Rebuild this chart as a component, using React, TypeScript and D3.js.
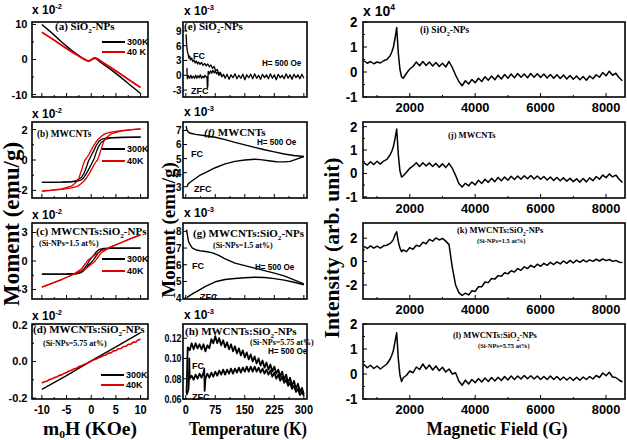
import React from "react";
import * as d3 from "d3";

// ---------------- DATA ----------------
// (a) SiO2-NPs  M-H  (x1e-2 emu/g)
const A_H = [-10, -8, -6, -4, -3, -2, -1.2, -0.6, 0, 0.4, 0.8, 1.2, 2, 3, 4, 6, 8, 10];
const A_300K = [10, 7.6, 5.0, 2.6, 1.6, 0.6, 0.0, -0.5, -0.2, 0.2, 0.35, 0.0, -0.9, -1.9, -2.9, -5.1, -7.4, -9.7];
const A_40K = [7.8, 6.0, 4.1, 2.2, 1.4, 0.5, -0.1, -0.5, -0.1, 0.35, 0.5, 0.25, -0.5, -1.4, -2.3, -4.2, -6.1, -8.0];

// (b) MWCNTs
const B_300K_DOWN_H = [10, 6, 4, 3, 2, 1.5, 1, 0.5, 0, -0.3, -0.6, -1, -1.5, -2, -3, -4, -6, -10];
const B_300K_DOWN = [1.5, 1.49, 1.47, 1.44, 1.35, 1.2, 0.95, 0.6, 0.3, 0.1, -0.1, -0.5, -0.9, -1.15, -1.35, -1.42, -1.45, -1.47];
const B_300K_UP_H = [-10, -6, -4, -3, -2, -1.5, -1, -0.5, 0, 0.3, 0.6, 1, 1.5, 2, 3, 4, 6, 10];
const B_300K_UP = [-1.47, -1.46, -1.44, -1.4, -1.3, -1.15, -0.9, -0.6, -0.3, -0.1, 0.1, 0.5, 0.9, 1.15, 1.38, 1.45, 1.48, 1.5];
const B_40K_DOWN_H = [10, 8, 6, 4, 3, 2.5, 2, 1.5, 1, 0.5, 0, -0.5, -1, -1.25, -1.5, -2, -2.5, -3, -4, -6, -8, -10];
const B_40K_DOWN = [2.05, 2.0, 1.93, 1.83, 1.75, 1.67, 1.55, 1.4, 1.2, 0.95, 0.65, 0.35, 0.1, 0, -0.2, -0.7, -1.2, -1.45, -1.72, -1.9, -1.98, -2.05];
const B_40K_UP_H = [-10, -8, -6, -4, -3, -2.5, -2, -1.5, -1, -0.5, 0, 0.5, 1, 1.25, 1.5, 2, 2.5, 3, 4, 6, 8, 10];
const B_40K_UP = [-2.05, -2.0, -1.93, -1.83, -1.75, -1.67, -1.55, -1.4, -1.2, -0.95, -0.65, -0.35, -0.1, 0, 0.2, 0.7, 1.2, 1.45, 1.72, 1.9, 1.98, 2.05];

// (c) MWCNTs:SiO2-NPs (1.5 at%)
const C_300K_DOWN_H = [10, 4, 2.5, 2, 1.5, 1, 0.5, 0, -0.4, -1, -1.5, -2, -2.5, -3, -5, -10];
const C_300K_DOWN = [1.35, 1.35, 1.33, 1.28, 1.18, 0.95, 0.6, 0.3, 0, -0.5, -0.85, -1.1, -1.25, -1.32, -1.37, -1.38];
const C_300K_UP_H = [-10, -5, -3, -2.5, -2, -1.5, -1, -0.5, 0, 0.4, 1, 1.5, 2, 2.5, 4, 10];
const C_300K_UP = [-1.38, -1.37, -1.34, -1.3, -1.2, -1.0, -0.7, -0.4, -0.15, 0.1, 0.55, 0.9, 1.12, 1.26, 1.34, 1.35];
const C_40K_DOWN_H = [10, 8, 6, 4, 3, 2, 1.5, 1, 0.5, 0, -0.5, -0.8, -1, -1.5, -2, -3, -4, -6, -8, -10];
const C_40K_DOWN = [2.75, 2.35, 1.92, 1.48, 1.27, 1.05, 0.9, 0.75, 0.55, 0.35, 0.15, 0, -0.15, -0.5, -0.85, -1.2, -1.5, -1.95, -2.35, -2.75];
const C_40K_UP_H = [-10, -8, -6, -4, -3, -2, -1.5, -1, -0.5, 0, 0.5, 0.8, 1, 1.5, 2, 3, 4, 6, 8, 10];
const C_40K_UP = [-2.75, -2.35, -1.95, -1.5, -1.25, -1.05, -0.9, -0.75, -0.55, -0.35, -0.15, 0, 0.15, 0.5, 0.85, 1.2, 1.48, 1.92, 2.35, 2.75];

// (d) MWCNTs:SiO2-NPs (5.75 at%)
const D_300K_H = [-10, -5, 0, 5, 10];
const D_300K = [-0.152, -0.077, 0.003, 0.08, 0.158];
const D_40K_H = [-10, -9.5, -9, -8.5, -8, -7.5, -7, -6.5, -6, -5.5, -5, -4.5, -4, -3.5, -3, -2.5, -2, -1.5, -1, -0.5, 0, 0.5, 1, 1.5, 2, 2.5, 3, 3.5, 4, 4.5, 5, 5.5, 6, 6.5, 7, 7.5, 8, 8.5, 9, 9.5, 10];
const D_40K = [-0.118, -0.111, -0.108, -0.099, -0.096, -0.088, -0.085, -0.076, -0.073, -0.065, -0.060, -0.052, -0.048, -0.040, -0.037, -0.028, -0.024, -0.016, -0.012, -0.004, 0.002, 0.009, 0.013, 0.021, 0.025, 0.033, 0.036, 0.046, 0.047, 0.058, 0.060, 0.070, 0.071, 0.082, 0.083, 0.094, 0.094, 0.106, 0.105, 0.118, 0.122];

// (e) SiO2-NPs M-T (x1e-3 emu/g) [T, M]
const E_FC: [number, number][] = [[1, 8.3], [2, 6.4], [3, 5.6], [4, 4.9], [6, 4.3], [8, 3.5], [10, 3.9], [12, 3.1], [15, 3.5], [18, 2.8], [21, 3.1], [24, 2.5], [27, 2.9], [30, 2.3], [33, 2.7], [36, 2.2], [40, 2.6], [44, 2.0], [48, 2.4], [52, 1.9], [56, 2.3], [60, 1.7], [64, 2.1], [68, 1.4], [72, 1.8], [76, 0.9], [80, 1.2], [84, 0.3], [88, 0.6], [92, -0.3], [96, 0.2], [100, -0.6], [105, 0.2], [110, -0.8], [115, 0.1], [120, -0.5], [125, 0.3], [130, -0.7], [135, 0.0], [140, -0.6], [145, 0.2], [150, -0.9], [155, 0.1], [160, -0.5], [165, 0.2], [170, -0.7], [175, 0.3], [180, -0.6], [185, 0.0], [190, -0.8], [195, 0.2], [200, -0.5], [205, 0.1], [210, -0.7], [215, 0.3], [220, -0.6], [225, 0.1], [230, -0.9], [235, 0.2], [240, -0.5], [245, 0.0], [250, -0.7], [255, 0.3], [260, -0.6], [265, 0.1], [270, -0.8], [275, 0.2], [280, -0.5], [285, 0.1], [290, -0.7], [295, 0.2], [300, -0.6]];
const E_ZFC: [number, number][] = [[3, 1.5], [4, -0.7], [7, -0.1], [10, -0.6], [13, 0.0], [16, -0.6], [19, -0.2], [22, -0.6], [25, 0.0], [28, -0.6], [31, -0.1], [34, -0.5], [37, 0.1], [40, -0.6], [43, -0.2], [46, -0.5], [49, 0.0], [52, -0.4], [54, -0.3], [55, -2.6], [56, -2.2], [57, 0.8], [60, 0.3], [63, 0.9], [66, 0.4], [69, 1.0], [72, 0.5], [75, 0.9], [78, 0.3], [81, 0.6], [84, 0.0], [88, 0.3], [92, -0.3]];

// (f) MWCNTs
const F_FC: [number, number][] = [[1, 7.3], [3, 7.05], [6, 6.9], [10, 6.82], [15, 6.78], [25, 6.72], [50, 6.62], [75, 6.52], [100, 6.35], [125, 6.15], [150, 5.97], [175, 5.8], [200, 5.63], [225, 5.48], [250, 5.33], [275, 5.22], [300, 5.15]];
const F_ZFC: [number, number][] = [[3, 3.0], [6, 3.2], [10, 3.3], [20, 3.5], [35, 3.8], [50, 4.0], [75, 4.35], [100, 4.62], [125, 4.8], [150, 4.9], [175, 4.95], [190, 4.93], [210, 4.85], [230, 4.78], [250, 4.77], [265, 4.8], [280, 4.95], [300, 5.15]];

// (g) MWCNTs:SiO2-NPs (1.5 at%)
const G_FC: [number, number][] = [[2, 8.1], [4, 7.8], [7, 7.4], [11, 7.2], [17, 7.0], [25, 6.9], [40, 6.82], [55, 6.78], [70, 6.7], [85, 6.55], [100, 6.35], [125, 6.1], [150, 5.95], [175, 5.8], [200, 5.65], [225, 5.5], [250, 5.33], [275, 5.1], [300, 4.85]];
const G_ZFC: [number, number][] = [[3, 4.05], [10, 4.15], [20, 4.3], [35, 4.5], [50, 4.7], [75, 4.98], [100, 5.12], [125, 5.18], [150, 5.22], [175, 5.25], [200, 5.24], [225, 5.17], [250, 5.08], [275, 4.95], [300, 4.8]];

// (h) MWCNTs:SiO2-NPs (5.75 at%)
const H_FC: [number, number][] = [[2, 0.066], [3, 0.078], [4, 0.098], [5, 0.111], [10, 0.108], [15, 0.115], [20, 0.109], [25, 0.115], [30, 0.110], [35, 0.114], [40, 0.109], [45, 0.114], [50, 0.107], [55, 0.113], [60, 0.110], [65, 0.119], [70, 0.115], [75, 0.122], [80, 0.115], [85, 0.120], [90, 0.113], [95, 0.118], [100, 0.111], [105, 0.116], [110, 0.109], [115, 0.114], [120, 0.107], [125, 0.112], [130, 0.105], [135, 0.110], [140, 0.103], [145, 0.108], [150, 0.101], [155, 0.106], [160, 0.099], [165, 0.104], [170, 0.097], [175, 0.102], [180, 0.095], [185, 0.100], [190, 0.093], [195, 0.098], [200, 0.091], [205, 0.096], [210, 0.089], [215, 0.094], [220, 0.087], [225, 0.092], [230, 0.085], [235, 0.089], [240, 0.082], [245, 0.087], [250, 0.079], [255, 0.084], [260, 0.076], [265, 0.081], [270, 0.073], [275, 0.078], [280, 0.070], [285, 0.075], [290, 0.067], [295, 0.071], [300, 0.065]];
const H_ZFC: [number, number][] = [[2, 0.064], [5, 0.067], [7, 0.070], [8, 0.079], [9, 0.100], [10, 0.080], [15, 0.083], [20, 0.079], [25, 0.084], [30, 0.080], [35, 0.085], [40, 0.081], [45, 0.086], [47, 0.090], [48, 0.068], [50, 0.080], [55, 0.085], [60, 0.081], [65, 0.086], [70, 0.082], [75, 0.087], [80, 0.083], [85, 0.088], [90, 0.084], [95, 0.089], [100, 0.084], [105, 0.089], [110, 0.085], [115, 0.090], [120, 0.085], [125, 0.090], [130, 0.086], [135, 0.091], [140, 0.086], [145, 0.091], [150, 0.087], [155, 0.092], [160, 0.087], [165, 0.092], [170, 0.087], [175, 0.092], [180, 0.087], [185, 0.091], [190, 0.086], [195, 0.090], [200, 0.085], [205, 0.089], [210, 0.084], [215, 0.088], [220, 0.082], [225, 0.086], [230, 0.080], [235, 0.084], [240, 0.078], [245, 0.082], [250, 0.076], [255, 0.079], [260, 0.073], [265, 0.076], [270, 0.070], [275, 0.073], [280, 0.067], [285, 0.070], [290, 0.064], [295, 0.067], [300, 0.063]];

// EPR spectra (x1e4 arb. unit) on a common field grid (G)
const EPR_H = [600, 700, 800, 900, 1000, 1100, 1200, 1300, 1400, 1450, 1500, 1550, 1600, 1650, 1700, 1750, 1800, 1900, 2000, 2100, 2200, 2300, 2400, 2500, 2600, 2700, 2800, 2900, 3000, 3100, 3200, 3300, 3400, 3500, 3600, 3700, 3800, 3900, 4000, 4100, 4200, 4300, 4400, 4500, 4600, 4700, 4800, 4900, 5000, 5100, 5200, 5300, 5400, 5500, 5600, 5700, 5800, 5900, 6000, 6100, 6200, 6300, 6400, 6500, 6600, 6700, 6800, 6900, 7000, 7100, 7200, 7300, 7400, 7500, 7600, 7700, 7800, 7900, 8000, 8100, 8200, 8300, 8400, 8500];
const EPR_I = [0.45, 0.35, 0.42, 0.33, 0.40, 0.36, 0.45, 0.50, 0.65, 0.80, 1.00, 1.35, 1.78, 0.75, 0.10, -0.20, -0.25, -0.05, 0.12, 0.22, 0.40, 0.25, 0.42, 0.26, 0.40, 0.24, 0.38, 0.22, 0.35, 0.20, 0.42, 0.18, -0.12, -0.38, -0.55, -0.35, -0.48, -0.30, -0.43, -0.25, -0.38, -0.19, -0.33, -0.16, -0.31, -0.13, -0.28, -0.10, -0.25, -0.08, -0.23, -0.06, -0.21, -0.08, -0.23, -0.06, -0.21, -0.07, -0.22, -0.08, -0.24, -0.10, -0.25, -0.11, -0.26, -0.12, -0.28, -0.14, -0.29, -0.16, -0.31, -0.18, -0.33, -0.16, -0.27, -0.11, -0.21, -0.02, -0.15, 0.03, -0.13, -0.05, -0.23, -0.35];
const EPR_J = [0.45, 0.36, 0.50, 0.38, 0.52, 0.40, 0.53, 0.60, 0.80, 0.95, 1.15, 1.50, 1.90, 0.80, 0.10, -0.15, -0.10, 0.05, 0.22, 0.32, 0.46, 0.30, 0.46, 0.32, 0.45, 0.30, 0.43, 0.27, 0.41, 0.25, 0.43, 0.22, -0.08, -0.43, -0.58, -0.42, -0.53, -0.37, -0.49, -0.29, -0.43, -0.25, -0.38, -0.21, -0.35, -0.17, -0.31, -0.15, -0.29, -0.12, -0.26, -0.11, -0.25, -0.10, -0.23, -0.09, -0.24, -0.11, -0.25, -0.13, -0.28, -0.15, -0.30, -0.17, -0.31, -0.19, -0.33, -0.21, -0.35, -0.23, -0.37, -0.22, -0.36, -0.19, -0.31, -0.13, -0.25, -0.07, -0.18, -0.02, -0.15, -0.07, -0.25, -0.38];
const EPR_K = [1.30, 1.12, 1.35, 1.15, 1.33, 1.15, 1.35, 1.40, 1.55, 1.70, 1.90, 2.30, 2.55, 1.70, 1.15, 0.85, 1.00, 0.85, 1.20, 1.05, 1.40, 1.30, 1.65, 1.52, 1.90, 1.75, 2.02, 1.85, 1.98, 1.75, 1.45, -0.50, -2.00, -2.65, -2.90, -2.70, -2.85, -2.50, -2.55, -2.15, -2.15, -1.75, -1.80, -1.45, -1.50, -1.20, -1.25, -0.95, -1.05, -0.78, -0.90, -0.60, -0.75, -0.45, -0.60, -0.32, -0.50, -0.22, -0.40, -0.15, -0.32, -0.06, -0.25, -0.02, -0.20, 0.05, -0.15, 0.10, -0.12, 0.12, -0.06, 0.15, -0.02, 0.15, 0.02, 0.20, 0.05, 0.22, 0.08, 0.18, 0.02, 0.10, -0.05, -0.08];
const EPR_L = [0.38, 0.25, 0.35, 0.22, 0.32, 0.20, 0.30, 0.40, 0.60, 0.75, 0.95, 1.30, 1.65, 0.60, -0.05, -0.30, -0.15, -0.05, 0.12, 0.05, 0.28, 0.18, 0.40, 0.20, 0.36, 0.16, 0.32, 0.13, 0.27, 0.08, 0.20, 0.00, 0.05, -0.28, -0.45, -0.25, -0.40, -0.22, -0.35, -0.18, -0.32, -0.16, -0.30, -0.14, -0.28, -0.13, -0.26, -0.10, -0.24, -0.08, -0.22, -0.08, -0.20, -0.06, -0.19, -0.07, -0.20, -0.08, -0.22, -0.10, -0.22, -0.08, -0.22, -0.10, -0.24, -0.12, -0.24, -0.13, -0.26, -0.13, -0.25, -0.12, -0.22, -0.10, -0.20, -0.06, -0.14, 0.04, -0.07, 0.07, -0.12, -0.14, -0.24, -0.32];

// tick values
const MH_TICKS = [-10, -5, 0, 5, 10];
const MT_TICKS = [0, 75, 150, 225, 300];
const EPR_TICKS = [2000, 4000, 6000, 8000];

// ---------------- RENDERING ----------------
const SERIF = "'Liberation Serif','Times New Roman',serif";
const SANS = "'Liberation Sans',Arial,sans-serif";

type Pt = [number, number];
const zip = (xs: number[], ys: number[]): Pt[] => xs.slice(0, Math.min(xs.length, ys.length)).map((x, i) => [x, ys[i]]);

type Series = { pts: Pt[]; color: string; w: number };
type PanelSpec = {
  id: string; x0: number; x1: number; y0: number; y1: number;
  xd: [number, number]; yd: [number, number];
  xt: number[]; xm: number[]; yt: number[]; ym: number[];
  yf: (v: number) => string; xlab: boolean; xfs: number; xsx: number; yfs: number; ysx: number; ygap: number;
  series: Series[];
};

function Tx({ x, y, fs, fam = SANS, anchor = "start", sx = 1, sy = 1, rot = 0, children, fw = "bold", tl }: any) {
  let tr = `translate(${x},${y})`;
  if (rot) tr += ` rotate(${rot})`;
  if (sx !== 1 || sy !== 1) tr += ` scale(${sx},${sy})`;
  return (
    <text transform={tr} fontSize={fs} fontFamily={fam} fontWeight={fw} textAnchor={anchor}
      textLength={tl} lengthAdjust={tl ? "spacingAndGlyphs" : undefined} fill="#000">
      {children}
    </text>
  );
}

function Panel({ p }: { p: PanelSpec }) {
  const xs = d3.scaleLinear().domain(p.xd).range([p.x0, p.x1]);
  const ys = d3.scaleLinear().domain(p.yd).range([p.y1, p.y0]);
  const line = d3.line<Pt>().x((d) => xs(d[0])).y((d) => ys(d[1]));
  const cid = `clip-${p.id}`;
  return (
    <g>
      <defs>
        <clipPath id={cid}>
          <rect x={p.x0} y={p.y0} width={p.x1 - p.x0} height={p.y1 - p.y0} />
        </clipPath>
      </defs>
      <g clipPath={`url(#${cid})`}>
        {p.series.map((s, i) => (
          <path key={i} d={line(s.pts) || ""} fill="none" stroke={s.color} strokeWidth={s.w} strokeLinejoin="round" />
        ))}
      </g>
      <rect x={p.x0} y={p.y0} width={p.x1 - p.x0} height={p.y1 - p.y0} fill="none" stroke="#000" strokeWidth={1.6} />
      {p.xt.map((v) => <line key={"xt" + v} x1={xs(v)} x2={xs(v)} y1={p.y1} y2={p.y1 - 4} stroke="#000" strokeWidth={1} />)}
      {p.xm.map((v) => <line key={"xm" + v} x1={xs(v)} x2={xs(v)} y1={p.y1} y2={p.y1 - 2} stroke="#000" strokeWidth={1} />)}
      {p.yt.map((v) => <line key={"yt" + v} x1={p.x0} x2={p.x0 + 4} y1={ys(v)} y2={ys(v)} stroke="#000" strokeWidth={1} />)}
      {p.ym.map((v) => <line key={"ym" + v} x1={p.x0} x2={p.x0 + 2} y1={ys(v)} y2={ys(v)} stroke="#000" strokeWidth={1} />)}
      {p.yt.map((v) => (
        <Tx key={"yl" + v} x={p.x0 - p.ygap} y={ys(v) + p.yfs * 0.36} fs={p.yfs} sx={p.ysx} anchor="end">{p.yf(v)}</Tx>
      ))}
      {p.xlab && p.xt.map((v) => (
        <Tx key={"xl" + v} x={xs(v)} y={p.y1 + 14.5} fs={p.xfs} sx={p.xsx} anchor="middle">{String(v)}</Tx>
      ))}
    </g>
  );
}

const sub2 = (rest: string) => (
  <>
    <tspan fontSize="0.65em" dy="2.5">2</tspan>
    <tspan dy="-2.5">{rest}</tspan>
  </>
);

function Mult({ x, y, exp, fs = 12 }: { x: number; y: number; exp: string; fs?: number }) {
  return (
    <text x={x} y={y} fontFamily={SANS} fontWeight="bold" fontSize={fs} fill="#000">
      x 10<tspan fontSize={fs * 0.62} dy={-fs * 0.45}>{exp}</tspan>
    </text>
  );
}

function Legend({ x, y1, y2, l1, l2 }: { x: number; y1: number; y2: number; l1: string; l2: string }) {
  return (
    <g>
      <line x1={x} x2={x + 23} y1={y1} y2={y1} stroke="#000" strokeWidth={2} />
      <Tx x={x + 25} y={y1 + 3.2} fs={9}>{l1}</Tx>
      <line x1={x} x2={x + 23} y1={y2} y2={y2} stroke="#e00000" strokeWidth={2} />
      <Tx x={x + 25} y={y2 + 3.2} fs={9}>{l2}</Tx>
    </g>
  );
}

export default function App() {
  const rows: [number, number][] = [[22, 97], [122, 198], [223, 299], [324, 399]];
  const RED = "#e00000";
  const col1 = { x0: 32, x1: 148, xd: [-12, 11.5] as [number, number], xt: MH_TICKS, xm: [-7.5, -2.5, 2.5, 7.5], xfs: 12.5, xsx: 0.88, yfs: 11, ysx: 1, ygap: 4.5 };
  const col2 = { x0: 183, x1: 307, xd: [-7, 308] as [number, number], xt: MT_TICKS, xm: [37.5, 112.5, 187.5, 262.5], xfs: 12.5, xsx: 0.88, yfs: 11, ysx: 0.9, ygap: 1.5 };
  const col3 = { x0: 363, x1: 625, xd: [570, 8580] as [number, number], xt: EPR_TICKS, xm: [1000, 3000, 5000, 7000], xfs: 13.5, xsx: 0.95, yfs: 14, ysx: 0.95, ygap: 5.5 };
  const int = (v: number) => String(v);

  const panels: PanelSpec[] = [
    { id: "a", ...col1, y0: rows[0][0], y1: rows[0][1], yd: [-10.7, 10.7], yt: [-10, 0, 10], ym: [-5, 5], yf: int, xlab: false,
      series: [{ pts: zip(A_H, A_300K), color: "#000", w: 1.4 }, { pts: zip(A_H, A_40K), color: RED, w: 1.8 }] },
    { id: "b", ...col1, y0: rows[1][0], y1: rows[1][1], yd: [-2.5, 2.5], yt: [-2, 0, 2], ym: [-1, 1], yf: int, xlab: false,
      series: [
        { pts: zip(B_300K_DOWN_H, B_300K_DOWN), color: "#000", w: 1.3 }, { pts: zip(B_300K_UP_H, B_300K_UP), color: "#000", w: 1.3 },
        { pts: zip(B_40K_DOWN_H, B_40K_DOWN), color: RED, w: 1.3 }, { pts: zip(B_40K_UP_H, B_40K_UP), color: RED, w: 1.3 }] },
    { id: "c", ...col1, y0: rows[2][0], y1: rows[2][1], yd: [-4, 4], yt: [-3, 0, 3], ym: [-1.5, 1.5], yf: int, xlab: false,
      series: [
        { pts: zip(C_300K_DOWN_H, C_300K_DOWN), color: "#000", w: 1.3 }, { pts: zip(C_300K_UP_H, C_300K_UP), color: "#000", w: 1.3 },
        { pts: zip(C_40K_DOWN_H, C_40K_DOWN), color: RED, w: 1.3 }, { pts: zip(C_40K_UP_H, C_40K_UP), color: RED, w: 1.3 }] },
    { id: "d", ...col1, y0: rows[3][0], y1: rows[3][1], yd: [-0.205, 0.205], yt: [-0.2, 0, 0.2], ym: [-0.1, 0.1], yf: (v) => v.toFixed(1), xlab: true,
      series: [{ pts: zip(D_300K_H, D_300K), color: "#000", w: 1.4 }, { pts: zip(D_40K_H, D_40K), color: RED, w: 1.6 }] },

    { id: "e", ...col2, y0: rows[0][0], y1: rows[0][1], yd: [-4.4, 10.8], yt: [-3, 0, 3, 6, 9], ym: [], yf: int, xlab: false,
      series: [{ pts: E_FC, color: "#000", w: 1.3 }, { pts: E_ZFC, color: "#000", w: 1.3 }] },
    { id: "f", ...col2, y0: rows[1][0], y1: rows[1][1], yd: [2.2, 7.6], yt: [3, 4, 5, 6, 7], ym: [], yf: int, xlab: false,
      series: [{ pts: F_FC, color: "#000", w: 1.4 }, { pts: F_ZFC, color: "#000", w: 1.4 }] },
    { id: "g", ...col2, y0: rows[2][0], y1: rows[2][1], yd: [3.95, 8.5], yt: [4, 5, 6, 7, 8], ym: [], yf: int, xlab: false,
      series: [{ pts: G_FC, color: "#000", w: 1.4 }, { pts: G_ZFC, color: "#000", w: 1.4 }] },
    { id: "h", ...col2, y0: rows[3][0], y1: rows[3][1], yd: [0.06, 0.134], yt: [0.06, 0.08, 0.10, 0.12], ym: [], yf: (v) => v.toFixed(2), xlab: true, ysx: 0.8,
      series: [{ pts: H_FC, color: "#000", w: 1.8 }, { pts: H_ZFC, color: "#000", w: 1.8 }] },

    { id: "i", ...col3, y0: rows[0][0], y1: rows[0][1], yd: [-1, 2], yt: [-1, 0, 1, 2], ym: [-0.5, 0.5, 1.5], yf: int, xlab: true,
      series: [{ pts: zip(EPR_H, EPR_I), color: "#000", w: 1.5 }] },
    { id: "j", ...col3, y0: rows[1][0], y1: rows[1][1], yd: [-1.05, 2.2], yt: [-1, 0, 1, 2], ym: [-0.5, 0.5, 1.5], yf: int, xlab: true,
      series: [{ pts: zip(EPR_H, EPR_J), color: "#000", w: 1.5 }] },
    { id: "k", ...col3, y0: rows[2][0], y1: rows[2][1], yd: [-3.2, 3.3], yt: [-2, 0, 2], ym: [-1, 1], yf: int, xlab: true,
      series: [{ pts: zip(EPR_H, EPR_K), color: "#000", w: 1.5 }] },
    { id: "l", ...col3, y0: rows[3][0], y1: rows[3][1], yd: [-1, 2], yt: [-1, 0, 1, 2], ym: [-0.5, 0.5, 1.5], yf: int, xlab: true,
      series: [{ pts: zip(EPR_H, EPR_L), color: "#000", w: 1.5 }] },
  ];

  return (
    <svg width={627} height={440} viewBox="0 0 627 440" style={{ position: "absolute", left: 0, top: 0, background: "#fff" }}>
      <rect x={0} y={0} width={627} height={440} fill="#fff" />
      {panels.map((p) => <Panel key={p.id} p={p} />)}

      {/* multipliers */}
      <Mult x={32} y={14} exp="-2" />
      <Mult x={32} y={118} exp="-2" />
      <Mult x={32} y={219} exp="-2" />
      <Mult x={32} y={320} exp="-2" />
      <Mult x={184} y={15} exp="-3" />
      <Mult x={184} y={116} exp="-3" />
      <Mult x={184} y={217} exp="-3" />
      <Mult x={184} y={319} exp="-3" />
      <Mult x={363} y={16} exp="4" fs={14} />

      {/* legends */}
      <Legend x={102} y1={42} y2={52} l1="300K" l2="40 K" />
      <Legend x={102} y1={149} y2={161} l1="300K" l2="40K" />
      <Legend x={102} y1={259} y2={271} l1="300K" l2="40K" />
      <Legend x={101} y1={375} y2={385} l1="300K" l2="40K" />

      {/* panel labels col1 */}
      <Tx x={55} y={30} fs={11} fam={SERIF}>(a) SiO{sub2("-NPs")}</Tx>
      <Tx x={37} y={137} fs={11} fam={SERIF} sx={0.85}>(b) MWCNTs</Tx>
      <Tx x={36} y={235} fs={11} fam={SERIF}>(c) MWCNTs:SiO{sub2("-NPs")}</Tx>
      <Tx x={39} y={246} fs={8} fam={SERIF}>(Si-NPs=1.5 at%)</Tx>
      <Tx x={33} y={333} fs={11} fam={SERIF}>(d) MWCNTs:SiO{sub2("-NPs")}</Tx>
      <Tx x={43} y={346} fs={8} fam={SERIF}>(Si-NPs=5.75 at%)</Tx>

      {/* panel labels col2 */}
      <Tx x={184} y={30} fs={11} fam={SERIF}>(e) SiO{sub2("-NPs")}</Tx>
      <Tx x={193} y={59} fs={9}>FC</Tx>
      <Tx x={262} y={66} fs={9} sx={0.9}>H= 500 Oe</Tx>
      <Tx x={191} y={94} fs={9}>ZFC</Tx>

      <Tx x={204} y={136} fs={11} fam={SERIF}><tspan fontStyle="italic">(f)</tspan> MWCNTs</Tx>
      <Tx x={257} y={145} fs={9} sx={0.9}>H= 500 Oe</Tx>
      <Tx x={191} y={157} fs={9}>FC</Tx>
      <Tx x={194} y={192} fs={9}>ZFC</Tx>

      <Tx x={193} y={237} fs={11} fam={SERIF}>(g) MWCNTs:SiO{sub2("-NPs")}</Tx>
      <Tx x={213} y={248} fs={8} fam={SERIF}>(Si-NPs=1.5 at%)</Tx>
      <Tx x={192} y={269} fs={9}>FC</Tx>
      <Tx x={255} y={270} fs={9} sx={0.9}>H= 500 Oe</Tx>
      <Tx x={200} y={300} fs={9}>ZFC</Tx>

      <Tx x={185} y={335} fs={11} fam={SERIF}>(h) MWCNTs:SiO{sub2("-NPs")}</Tx>
      <Tx x={250} y={345} fs={8} fam={SERIF}>(Si-NPs=5.75 at%)</Tx>
      <Tx x={268} y={354} fs={9} sx={0.9}>H= 500 Oe</Tx>
      <Tx x={192} y={369} fs={9}>FC</Tx>
      <Tx x={192} y={400} fs={9}>ZFC</Tx>

      {/* panel labels col3 */}
      <Tx x={420} y={33} fs={9.5} fam={SERIF}>(i) SiO{sub2("-NPs")}</Tx>
      <Tx x={448} y={138} fs={8.5} fam={SERIF}>(j) MWCNTs</Tx>
      <Tx x={457} y={233} fs={8.5} fam={SERIF}>(k) MWCNTs:SiO{sub2("-NPs")}</Tx>
      <Tx x={477} y={243} fs={6.5} fam={SERIF}>(Si-NPs=1.5 at%)</Tx>
      <Tx x={453} y={338} fs={8.5} fam={SERIF}>(l) MWCNTs:SiO{sub2("-NPs")}</Tx>
      <Tx x={478} y={348} fs={6.5} fam={SERIF}>(Si-NPs=5.75 at%)</Tx>

      {/* axis titles */}
      <Tx x={19} y={224} fs={23} fam={SERIF} rot={-90} anchor="middle">Moment (emu/g)</Tx>
      <Tx x={175} y={230} fs={19} fam={SERIF} rot={-90} anchor="middle">Moment (emu/g)</Tx>
      <Tx x={339} y={248} fs={21.5} fam={SERIF} rot={-90} anchor="middle">Intensity (arb. unit)</Tx>
      <Tx x={90} y={435} fs={19} fam={SERIF} anchor="middle" tl={94}>m<tspan fontSize="0.6em" dy="3">0</tspan><tspan dy="-3">H (KOe)</tspan></Tx>
      <Tx x={248} y={435} fs={19} fam={SERIF} anchor="middle" tl={118}>Temperature (K)</Tx>
      <Tx x={497} y={435} fs={19} fam={SERIF} anchor="middle" tl={141}>Magnetic Field (G)</Tx>
    </svg>
  );
}
